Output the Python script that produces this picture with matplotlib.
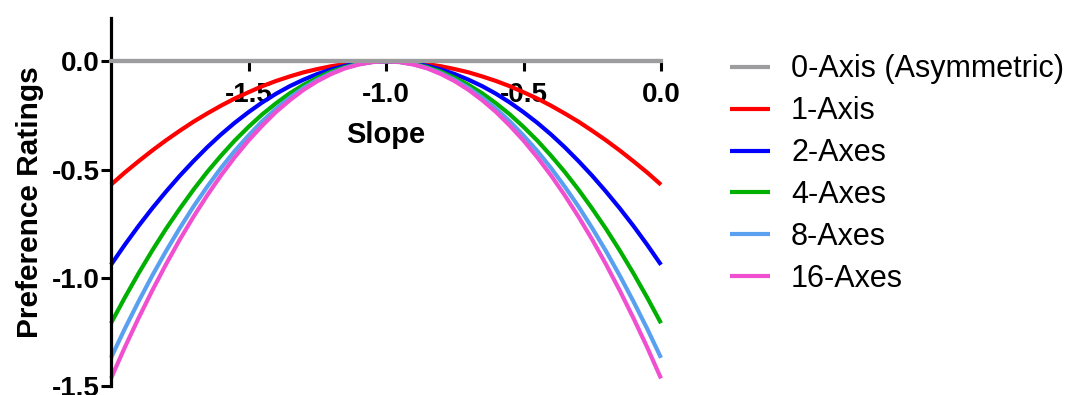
import matplotlib
matplotlib.use("Agg")
from matplotlib import pyplot as plt

plt.rcParams['font.family'] = ['Liberation Sans', 'DejaVu Sans']

# slope values (x axis), every 0.05
slope = [-2.0, -1.95, -1.9, -1.85, -1.8, -1.75, -1.7, -1.65, -1.6, -1.55, -1.5,
         -1.45, -1.4, -1.35, -1.3, -1.25, -1.2, -1.15, -1.1, -1.05, -1.0,
         -0.95, -0.9, -0.85, -0.8, -0.75, -0.7, -0.65, -0.6, -0.55, -0.5,
         -0.45, -0.4, -0.35, -0.3, -0.25, -0.2, -0.15, -0.1, -0.05, 0.0]

# preference ratings
axis0 = [0.0] * 41
axis1 = [-0.570, -0.514, -0.462, -0.412, -0.365, -0.321, -0.279, -0.241, -0.205, -0.172, -0.143,
         -0.115, -0.091, -0.070, -0.051, -0.036, -0.023, -0.013, -0.006, -0.001, 0.0,
         -0.001, -0.006, -0.013, -0.023, -0.036, -0.051, -0.070, -0.091, -0.115, -0.143,
         -0.172, -0.205, -0.241, -0.279, -0.321, -0.365, -0.412, -0.462, -0.514, -0.570]
axes2 = [-0.940, -0.848, -0.761, -0.679, -0.602, -0.529, -0.461, -0.397, -0.338, -0.284, -0.235,
         -0.190, -0.150, -0.115, -0.085, -0.059, -0.038, -0.021, -0.009, -0.002, 0.0,
         -0.002, -0.009, -0.021, -0.038, -0.059, -0.085, -0.115, -0.150, -0.190, -0.235,
         -0.284, -0.338, -0.397, -0.461, -0.529, -0.602, -0.679, -0.761, -0.848, -0.940]
axes4 = [-1.210, -1.092, -0.980, -0.874, -0.774, -0.681, -0.593, -0.511, -0.436, -0.366, -0.303,
         -0.245, -0.194, -0.148, -0.109, -0.076, -0.048, -0.027, -0.012, -0.003, 0.0,
         -0.003, -0.012, -0.027, -0.048, -0.076, -0.109, -0.148, -0.194, -0.245, -0.303,
         -0.366, -0.436, -0.511, -0.593, -0.681, -0.774, -0.874, -0.980, -1.092, -1.210]
axes8 = [-1.370, -1.236, -1.110, -0.990, -0.877, -0.771, -0.671, -0.579, -0.493, -0.414, -0.343,
         -0.277, -0.219, -0.168, -0.123, -0.086, -0.055, -0.031, -0.014, -0.003, 0.0,
         -0.003, -0.014, -0.031, -0.055, -0.086, -0.123, -0.168, -0.219, -0.277, -0.343,
         -0.414, -0.493, -0.579, -0.671, -0.771, -0.877, -0.990, -1.110, -1.236, -1.370]
axes16 = [-1.465, -1.322, -1.187, -1.059, -0.938, -0.824, -0.718, -0.619, -0.527, -0.443, -0.366,
          -0.297, -0.234, -0.180, -0.132, -0.092, -0.059, -0.033, -0.015, -0.004, 0.0,
          -0.004, -0.015, -0.033, -0.059, -0.092, -0.132, -0.180, -0.234, -0.297, -0.366,
          -0.443, -0.527, -0.619, -0.718, -0.824, -0.938, -1.059, -1.187, -1.322, -1.465]

labels = ["0-Axis (Asymmetric)", "1-Axis", "2-Axes", "4-Axes", "8-Axes", "16-Axes"]
series = [axis0, axis1, axes2, axes4, axes8, axes16]
colors = ["#9d9d9f", "#ff0000", "#0000ff", "#00b000", "#5aa0f0", "#f050d0"]

fig = plt.figure(figsize=(10.66, 3.95), dpi=100)
ax = fig.add_axes([111 / 1066, 9 / 395, 550 / 1066, 368 / 395])

for vals, lab, col in zip(series, labels, colors):
    ax.plot(slope, vals, color=col, lw=3, label=lab, clip_on=False,
            solid_capstyle='butt')

ax.set_xlim(-2, 0)
ax.set_ylim(-1.5, 0.2)

# prism-like axes: x axis sits at y=0
ax.spines['top'].set_visible(False)
ax.spines['right'].set_visible(False)
ax.spines['bottom'].set_position(('data', 0))
ax.spines['bottom'].set_color("#9d9d9f")
ax.spines['bottom'].set_linewidth(3)
ax.spines['left'].set_linewidth(2.3)

ax.set_xticks([-1.5, -1.0, -0.5, 0.0])
ax.set_xticklabels(["-1.5", "-1.0", "-0.5", "0.0"])
ax.set_yticks([0.0, -0.5, -1.0, -1.5])
ax.set_yticklabels(["0.0", "-0.5", "-1.0", "-1.5"])
ax.tick_params(axis='both', direction='out', length=7, width=2.2, color='black',
               labelsize=20)
ax.tick_params(axis='x', pad=8)
ax.tick_params(axis='y', pad=1)
for t in ax.get_xticklabels() + ax.get_yticklabels():
    t.set_fontweight('bold')

ax.set_xlabel("Slope", fontsize=21, fontweight='bold', labelpad=9)
ax.set_ylabel("Preference Ratings", fontsize=21.5, fontweight='bold', labelpad=6)

fig.legend(loc='center left', bbox_to_anchor=(730 / 1066, 0.559), frameon=False,
           fontsize=22, handlelength=1.3, handletextpad=0.7, labelspacing=0.39,
           borderaxespad=0, borderpad=0)

fig.savefig("out.png", dpi=100)
